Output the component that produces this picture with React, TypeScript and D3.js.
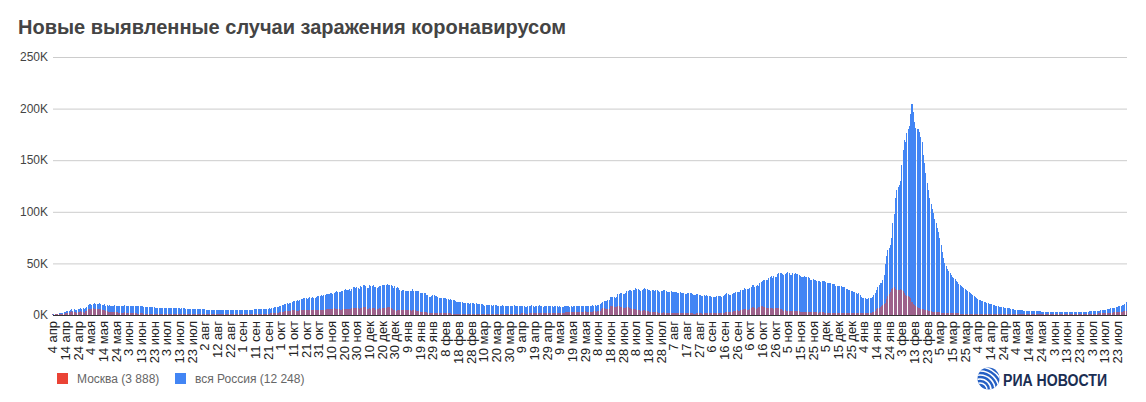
import React from 'react';
import * as d3 from 'd3';

// Daily new cases, thousands. Start date: 4 Apr 2020, one value per day.
const startDate = new Date(2020, 3, 4);
const monthNames = ['янв', 'фев', 'мар', 'апр', 'мая', 'июн', 'июл', 'авг', 'сен', 'окт', 'ноя', 'дек'];
const yTicks = [0, 50, 100, 150, 200, 250];
const seriesNames = ['Москва', 'вся Россия'];
const chartTitle = 'Новые выявленные случаи заражения коронавирусом';

const russia2020 = [
  // Apr (from 4th)
  0.6,0.7,1.0,1.2,1.2,1.5,1.8,1.7,2.2,2.6, 2.8,3.4,3.4,4.1,4.8,6.1,4.3,5.6,5.2,4.8, 5.8,6.0,6.4,6.2,6.4,5.8,7.1,
  // May
  7.9,9.6,10.6,10.6,10.1,10.6,11.2,10.7,10.8,11.0, 11.7,10.9,10.0,10.0,10.6,9.2,9.7,8.9,9.3,8.8, 8.8,8.9,9.4,8.6,8.9,8.9,8.3,8.4,8.6,9.0, 9.3,
  // Jun
  9.0,8.9,8.5,8.8,8.7,8.9,9.0,9.0,8.6,8.4, 8.8,9.0,8.7,8.8,8.2,8.2,7.8,7.8,8.0,8.0, 7.9,7.7,7.6,7.2,7.1,6.8,6.9,6.8,6.7,6.6,
  // Jul
  6.8,6.6,6.6,6.7,6.6,6.7,6.4,6.6,6.5,6.6, 6.6,6.6,6.5,6.2,6.4,6.4,6.4,6.2,6.1,5.9, 5.8,5.9,5.8,5.8,5.9,5.8,5.6,5.5,5.4,5.5, 5.5,
  // Aug
  5.5,5.4,5.2,5.2,5.2,5.2,5.2,5.3,5.2,5.1, 5.1,5.1,5.1,5.1,5.1,5.0,4.8,4.7,4.8,4.8, 4.9,4.8,4.9,4.7,4.7,4.7,4.7,4.8,5.0,4.9, 4.7,
  // Sep
  5.0,4.7,5.0,5.1,5.2,5.2,5.2,5.1,5.2,5.4, 5.4,5.4,5.5,5.5,5.7,5.5,5.8,5.9,6.1,6.1, 6.2,6.4,6.2,6.6,7.2,7.5,7.9,8.1,8.2,8.5,
  // Oct
  8.9,9.4,9.9,10.5,10.9,11.6,11.1,11.5,12.1,12.8, 13.6,13.6,13.9,14.2,13.8,14.9,15.2,15.1,16.0,16.3, 16.2,15.7,16.5,17.3,16.7,17.3,16.6,16.2,17.7,18.3, 18.1,
  // Nov
  18.7,19.8,18.6,19.4,19.1,20.6,20.5,19.9,21.8,21.0, 19.9,21.6,22.0,22.8,22.6,22.0,22.4,22.8,23.6,24.3, 24.8,24.6,24.2,25.2,23.7,25.5,27.5,27.1,26.3,26.7,
  // Dec
  26.4,25.3,28.1,27.4,28.8,29.0,28.1,26.1,26.2,28.6, 27.9,28.1,28.6,27.3,26.7,26.5,27.0,28.2,28.2,28.6, 29.4,28.8,29.3,29.9,29.0,28.9,29.3,27.8,26.5,27.7, 26.5,
];

const russia2021 = [
  // Jan
  27.0,26.3,24.2,23.4,24.2,24.2,23.5,23.3,22.9,23.7, 22.9,23.3,24.8,23.5,23.3,22.9,22.8,22.9,21.7,21.2, 21.1,21.5,20.9,19.3,19.2,17.6,17.7,18.2,19.0,19.5, 18.4,
  // Feb
  18.5,17.6,16.7,16.6,16.7,16.6,16.6,16.0,15.9,15.6, 15.0,15.1,14.2,14.2,14.2,13.2,13.0,12.7,12.8,13.0, 12.6,11.8,11.5,11.7,11.2,11.4,11.0,11.5,
  // Mar
  11.6,11.4,11.0,11.4,10.5,11.0,10.6,10.6,10.4,9.6, 9.1,9.9,9.4,9.4,9.9,9.4,9.2,9.3,9.6,9.4, 9.2,9.2,8.5,8.9,9.3,9.1,9.1,8.9,8.3,8.7, 8.9,
  // Apr
  8.8,8.9,9.3,8.6,8.3,8.3,8.7,8.8,8.8,9.1, 8.6,8.1,8.2,8.7,9.2,8.8,9.3,8.6,8.1,8.4, 8.3,9.0,9.3,8.5,8.3,8.1,8.3,8.8,9.0,8.7,
  // May
  9.0,8.6,8.5,7.8,8.3,8.3,8.4,8.2,8.4,8.0, 7.6,8.2,8.7,8.6,8.6,8.6,8.2,8.4,8.2,8.7, 8.6,8.9,8.8,8.6,8.5,8.4,8.8,9.0,9.1,9.0, 9.2,
  // Jun
  9.0,9.0,9.2,9.3,9.1,9.3,9.0,9.3,9.7,10.4, 11.7,12.5,13.5,13.4,13.7,14.1,14.2,17.3,17.6,17.9, 17.4,16.7,17.6,20.2,20.4,21.7,21.7,20.5,20.6,21.0,
  // Jul
  23.5,23.2,24.4,24.4,23.4,23.8,24.7,25.8,25.1,25.1, 24.1,23.5,24.5,25.3,25.7,25.0,25.1,24.5,23.9,23.6, 24.2,23.8,23.7,24.1,24.6,22.8,22.4,23.3,23.6,23.8, 23.8,
  // Aug
  23.5,22.6,22.2,22.4,22.8,22.7,22.4,22.2,21.9,21.6, 21.6,21.9,21.6,21.6,21.0,20.8,20.8,21.1,21.6,21.4, 21.0,20.6,19.6,19.5,20.2,20.8,19.3,19.5,18.8,18.3, 19.0,
  // Sep
  18.8,18.9,18.8,18.6,18.1,17.8,17.9,17.8,17.8,18.3, 18.6,18.6,18.1,17.9,18.8,19.6,19.9,21.4,20.2,19.7, 19.7,20.2,21.4,21.6,22.2,22.4,22.2,22.4,23.9,23.9,
  // Oct
  24.5,25.8,25.1,25.4,25.1,26.3,27.2,28.7,29.4,27.2, 28.2,28.7,28.2,31.3,32.2,33.2,34.3,34.3,33.7,34.1, 36.3,37.1,37.7,35.7,37.9,36.4,36.6,40.1,41.0,40.3, 41.0,
  // Nov
  39.4,39.2,40.2,40.7,41.3,40.8,39.2,39.2,40.4,39.4, 40.8,40.1,39.3,38.8,38.1,36.6,37.1,37.4,37.2,37.1, 37.0,35.7,33.6,33.9,34.7,33.9,33.6,33.0,32.9,32.6,
  // Dec
  32.1,32.6,32.9,33.0,32.1,31.1,30.8,30.9,30.8,29.9, 29.6,29.9,28.5,28.0,28.4,28.4,28.0,26.7,27.4,26.8, 25.6,25.6,24.7,24.1,23.2,23.1,22.6,21.9,21.1,20.1, 21.2,
];

const russia2022 = [
  // Jan
  19.8,17.5,16.6,16.3,16.2,15.8,15.8,16.0,16.2,16.6, 17.8,19.4,20.9,23.8,27.1,29.2,30.7,31.3,33.9,38.9, 49.5,57.2,63.2,65.1,67.8,74.7,88.8,98.0,113.1,121.2, 124.1,
  // Feb
  126,130,145,160,170,168,176,180,183,195, 204,197,187,181,180,180,177,172,168,155, 147,138,128,121,113,108,103,99,
  // Mar
  93,89,84,80,75,68,61,55,50,47, 45,43,41,39,37,36,35,33,32,30, 29,28,27,26,25,24,23,22,21,20, 19,
  // Apr
  18,17,16.5,15.5,15,14.5,14,13.5,13,12.5, 12,11.5,11,10.8,10.5,10,9.5,9,8.8,8.5, 8.2,8,7.7,7.5,7.2,7,6.7,6.5,6.3,6,
  // May
  5.8,5.5,5.3,5.0,4.9,4.7,4.6,4.5,4.4,4.3, 4.2,4.1,4.0,3.9,3.8,3.7,3.7,3.6,3.6,3.5, 3.5,3.4,3.4,3.3,3.3,3.2,3.2,3.2,3.1,3.1, 3.1,
  // Jun
  3.1,3.0,3.0,3.0,2.9,2.9,2.9,2.9,2.8,2.8, 2.8,2.8,2.8,2.7,2.7,2.7,2.7,2.7,2.7,2.7, 2.8,2.8,2.8,2.9,2.9,3.0,3.0,3.1,3.2,3.3,
  // Jul (to 30th)
  3.4,3.5,3.6,3.7,3.8,3.9,4.0,4.2,4.3,4.5, 4.7,4.9,5.1,5.3,5.5,5.7,6.0,6.3,6.6,6.9, 7.2,7.6,8.0,8.3,8.7,9.1,9.6,10.1,10.7,12.248,
];

const moscow2020 = [
  // Apr (from 4th)
  0.5,0.4,0.6,0.7,0.8,1.0,1.1,1.0,1.4,1.4, 1.5,1.8,1.9,2.2,3.1,3.6,2.6,3.0,2.6,2.3, 3.1,2.9,3.4,2.9,3.1,2.2,3.7,
  // May
  4.1,5.4,5.9,5.8,5.7,6.7,6.0,5.4,5.4,5.9, 6.2,5.8,4.7,4.7,4.8,3.5,3.5,3.2,3.2,2.9, 2.6,2.5,2.9,2.8,2.8,2.1,2.0,2.1,2.1,2.3, 2.6,
  // Jun
  2.3,1.7,1.6,1.8,1.9,1.8,2.0,2.0,1.6,1.2, 1.3,1.6,1.6,1.5,1.1,1.0,1.0,1.1,1.1,1.1, 1.1,1.0,0.9,0.8,1.0,0.9,1.0,0.9,0.8,0.7,
  // Jul
  0.7,0.6,0.7,0.7,0.7,0.7,0.6,0.6,0.6,0.7, 0.7,0.6,0.6,0.6,0.6,0.6,0.6,0.6,0.6,0.7, 0.7,0.7,0.7,0.7,0.7,0.7,0.7,0.7,0.6,0.7, 0.7,
  // Aug
  0.7,0.7,0.7,0.7,0.7,0.7,0.7,0.7,0.7,0.7, 0.7,0.7,0.7,0.7,0.7,0.7,0.6,0.6,0.6,0.6, 0.6,0.6,0.6,0.6,0.6,0.6,0.6,0.6,0.6,0.6, 0.6,
  // Sep
  0.6,0.6,0.6,0.6,0.6,0.7,0.7,0.6,0.7,0.7, 0.7,0.7,0.8,0.8,0.8,0.9,1.0,1.0,1.0,1.1, 1.1,1.3,1.5,1.6,2.0,2.2,2.3,2.3,2.4,2.5,
  // Oct
  2.7,2.9,3.0,3.5,3.5,4.1,3.5,3.7,4.1,4.5, 4.9,4.4,4.0,3.9,4.0,4.6,4.5,4.6,4.8,5.0, 4.7,4.5,5.1,5.2,4.5,5.3,4.8,4.6,5.2,5.3, 5.0,
  // Nov
  5.3,5.3,4.5,5.0,5.0,6.0,6.1,5.9,5.4,5.8, 6.0,6.4,6.0,6.0,6.2,5.9,5.2,5.3,5.9,6.1, 6.1,6.0,6.2,6.0,5.6,6.5,7.2,7.2,6.9,7.0,
  // Dec
  6.7,6.1,6.6,6.9,7.3,7.5,7.8,5.8,6.0,6.4, 5.9,6.7,6.9,6.4,5.1,5.4,5.6,6.5,5.9,6.6, 6.6,6.3,7.1,8.2,7.7,7.6,7.0,6.0,4.6,5.3, 4.2,
];

const moscow2021 = [
  // Jan
  5.2,5.0,4.7,4.6,4.8,4.8,4.6,4.5,4.5,4.7, 4.4,4.0,4.6,4.4,4.4,3.9,3.9,3.7,3.3,3.1, 3.0,2.8,2.6,2.5,2.2,2.3,2.3,2.1,2.1,2.0, 2.0,
  // Feb
  1.9,1.9,1.8,1.8,1.7,1.7,1.7,1.6,1.6,1.5, 1.5,1.5,1.4,1.4,1.3,1.3,1.3,1.3,1.3,1.3, 1.3,1.2,1.2,1.2,1.2,1.2,1.2,1.2,
  // Mar
  1.2,1.2,1.2,1.2,1.1,1.1,1.1,1.1,1.0,1.0, 1.0,1.0,1.0,1.1,1.1,1.1,1.1,1.1,1.1,1.2, 1.2,1.2,1.2,1.2,1.2,1.2,1.2,1.3,1.3,1.3, 1.3,
  // Apr
  1.3,1.3,1.3,1.3,1.3,1.3,1.4,1.4,1.5,1.6, 1.5,1.4,1.4,1.4,1.5,1.6,1.6,1.7,1.6,1.6, 1.7,1.8,1.8,1.8,1.8,1.8,1.8,1.9,2.0,2.0,
  // May
  2.1,2.0,2.0,1.8,2.0,2.2,2.2,2.2,2.2,2.0, 1.9,2.0,2.3,2.5,2.6,2.6,2.5,2.6,2.6,2.8, 2.8,3.0,2.9,2.9,2.8,2.9,3.0,3.2,3.4,3.3, 3.0,
  // Jun
  3.0,2.9,2.9,3.1,3.4,3.7,3.3,3.7,4.1,4.1, 5.8,6.6,6.7,6.0,5.8,5.6,5.6,9.1,8.6,9.1, 7.9,7.3,7.9,9.1,8.4,8.1,7.7,6.9,6.6,6.5,
  // Jul
  7.6,7.4,7.0,6.6,5.9,5.4,5.4,5.8,5.1,5.0, 4.4,3.8,4.2,4.6,4.5,4.0,4.1,3.7,2.8,2.8, 3.0,3.0,3.2,3.0,2.8,2.2,2.4,2.3,2.4,2.5, 2.4,
  // Aug
  2.4,1.9,2.0,2.0,2.0,2.1,2.0,2.0,1.6,1.8, 1.8,1.9,2.0,1.9,1.8,1.6,1.6,1.6,1.7,1.7, 1.7,1.7,1.4,1.4,1.6,1.6,1.6,1.6,1.5,1.3, 1.5,
  // Sep
  1.5,1.6,1.6,1.7,1.7,1.5,1.6,1.7,1.7,1.8, 1.9,1.9,1.7,1.9,2.1,2.4,2.6,2.9,2.9,2.6, 2.6,3.3,3.6,4.0,4.1,4.4,4.3,4.1,5.1,5.3,
  // Oct
  5.6,5.7,5.9,5.3,4.7,5.4,6.7,7.4,7.6,6.5, 6.0,6.9,7.8,8.0,8.5,8.6,8.1,7.6,7.2,7.0, 6.9,7.1,7.0,6.7,6.2,6.3,6.8,6.7,6.5,6.2, 5.7,
  // Nov
  4.7,4.3,4.4,4.2,4.0,3.9,3.9,3.7,3.5,3.6, 3.7,3.6,3.5,3.5,3.0,3.2,3.3,3.3,3.1,3.1, 3.1,2.9,2.8,2.9,2.8,2.8,2.8,2.6,2.4,2.5,
  // Dec
  2.5,2.5,2.5,2.4,2.2,2.2,2.2,2.3,2.2,2.1, 2.0,1.9,1.8,1.9,1.9,1.8,1.8,1.7,1.6,1.6, 1.7,1.7,1.7,1.6,1.5,1.5,1.5,1.5,1.5,1.6, 1.7,
];

const moscow2022 = [
  // Jan
  1.7,1.7,1.6,1.6,1.6,1.5,1.5,1.6,1.8,2.2, 2.6,3.3,3.9,5.4,6.8,7.0,8.0,8.4,9.8,11.0, 12.0,15.5,18.0,20.5,22.0,25.0,26.0,26.8,25.5,24.6, 24.0,
  // Feb
  24.5,25.0,24.0,23.5,21.0,19.5,18.5,18.0,17.5,16.0, 13.0,11.0,9.5,8.5,7.5,7.0,6.5,6.0,5.7,5.4, 5.0,4.7,4.4,4.0,3.7,3.5,3.3,3.0,
  // Mar
  2.9,2.8,2.7,2.6,2.5,2.4,2.3,2.2,2.1,2.0, 2.0,1.9,1.8,1.8,1.7,1.7,1.6,1.6,1.5,1.5, 1.4,1.4,1.4,1.3,1.3,1.3,1.2,1.2,1.2,1.1, 1.1,
  // Apr
  1.1,1.1,1.0,1.0,1.0,1.0,1.0,0.9,0.9,0.9, 0.9,0.9,0.9,0.9,0.8,0.8,0.8,0.8,0.8,0.8, 0.8,0.8,0.8,0.7,0.7,0.7,0.7,0.7,0.7,0.7,
  // May
  0.7,0.7,0.6,0.6,0.6,0.6,0.6,0.6,0.6,0.6, 0.6,0.6,0.6,0.6,0.6,0.6,0.6,0.6,0.6,0.6, 0.6,0.6,0.6,0.6,0.6,0.6,0.6,0.6,0.6,0.6, 0.6,
  // Jun
  0.6,0.6,0.6,0.6,0.6,0.6,0.6,0.6,0.6,0.6, 0.6,0.6,0.6,0.6,0.6,0.6,0.6,0.6,0.6,0.6, 0.7,0.7,0.7,0.8,0.8,0.9,0.9,1.0,1.0,1.1,
  // Jul (to 30th)
  1.1,1.2,1.2,1.3,1.3,1.4,1.4,1.5,1.5,1.6, 1.7,1.8,1.8,1.9,2.0,2.1,2.2,2.3,2.4,2.5, 2.6,2.7,2.8,2.9,3.0,3.1,3.3,3.5,3.7,3.888,
];

const russia = [...russia2020, ...russia2021, ...russia2022];
const moscow = [...moscow2020, ...moscow2021, ...moscow2022];

const COLORS = { moscow: '#EA4335', russia: '#4285F4' };
const FONT = '"Liberation Sans", Arial, sans-serif';

function fmtLast(v: number) {
  return String(Math.round(v * 1000)).replace(/\B(?=(\d{3})+(?!\d))/g, ' ');
}

export default function App() {
  const W = 1146;
  const H = 402;
  const n = russia.length;
  const x0 = 52.7;
  const step = 1.2674;
  const x = d3
    .scaleBand<number>()
    .domain(d3.range(n))
    .range([x0 - step / 2, x0 + (n - 0.5) * step])
    .paddingInner(0.2)
    .paddingOuter(0.1);
  const bw = x.bandwidth();
  const y = d3.scaleLinear().domain([0, 250]).range([315, 57]);
  const gridX1 = 53;
  const gridX2 = 1127;

  const dayDate = (i: number) => d3.timeDay.offset(startDate, i);
  const tickIdx = d3.range(0, n, 10);
  const tickLabel = (i: number) => {
    const d = dayDate(i);
    return `${d.getDate()} ${monthNames[d.getMonth()]}`;
  };

  const legend = [
    { name: seriesNames[0], color: COLORS.moscow, value: moscow[moscow.length - 1], x: 57, tx: 77 },
    { name: seriesNames[1], color: COLORS.russia, value: russia[russia.length - 1], x: 175, tx: 195 },
  ];

  const arcR = [7, 11, 15, 19, 23];

  return (
    <div style={{ position: 'absolute', left: 0, top: 0 }}>
      <svg width={W} height={H} style={{ display: 'block', background: '#fff' }}>
        <rect width={W} height={H} fill="#fff" />
        <text x={18} y={34} fontFamily={FONT} fontWeight="bold" fontSize={20} fill="#444">
          {chartTitle}
        </text>

        {yTicks.map((t) => (
          <g key={t}>
            {t > 0 && (
              <line x1={gridX1} x2={gridX2} y1={y(t) + 0.5} y2={y(t) + 0.5} stroke="#cccccc" strokeWidth={1} />
            )}
            <text x={48} y={y(t)} dy="0.35em" textAnchor="end" fontFamily={FONT} fontSize={12} fill="#444">
              {`${t}K`}
            </text>
          </g>
        ))}

        <g shapeRendering="crispEdges">
          {russia.map((v, i) => (
            <rect key={'r' + i} x={x(i)!} y={y(v)} width={bw} height={y(0) - y(v)} fill={COLORS.russia} />
          ))}
          {moscow.map((v, i) => (
            <rect key={'m' + i} x={x(i)!} y={y(v)} width={bw} height={y(0) - y(v)} fill={COLORS.moscow} opacity={0.55} />
          ))}
        </g>

        <line x1={gridX1} x2={gridX2} y1={y(0) + 0.5} y2={y(0) + 0.5} stroke="#333" strokeWidth={1} />

        {tickIdx.map((i) => {
          const cx = x(i)! + bw / 2;
          return (
            <text
              key={'t' + i}
              transform={`translate(${cx},321) rotate(-90)`}
              dy="0.35em"
              textAnchor="end"
              fontFamily={FONT}
              fontSize={13}
              fill="#222"
            >
              {tickLabel(i)}
            </text>
          );
        })}

        {legend.map((l) => (
          <g key={l.name}>
            <rect x={l.x} y={373} width={11} height={11} fill={l.color} />
            <text x={l.tx} y={378.5} dy="0.35em" fontFamily={FONT} fontSize={12} fill="#666">
              {`${l.name} (${fmtLast(l.value)})`}
            </text>
          </g>
        ))}

        <defs>
          <clipPath id="riaClip">
            <circle cx={988.5} cy={378.5} r={11} />
          </clipPath>
        </defs>
        <circle cx={988.5} cy={378.5} r={11} fill="#2560c4" />
        <g clipPath="url(#riaClip)">
          {arcR.map((r) => (
            <circle key={r} cx={980} cy={390} r={r} fill="none" stroke="#fff" strokeWidth={1.6} />
          ))}
        </g>
        <text
          x={1003}
          y={386}
          fontFamily={FONT}
          fontWeight="bold"
          fontSize={16}
          fill="#1b2e52"
          textLength={104}
          lengthAdjust="spacingAndGlyphs"
        >
          РИА НОВОСТИ
        </text>
      </svg>
    </div>
  );
}
